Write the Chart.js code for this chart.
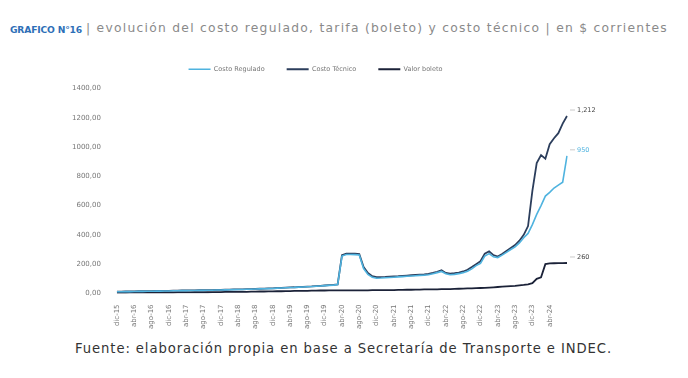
<!DOCTYPE html>
<html><head><meta charset="utf-8">
<script src="https://cdn.jsdelivr.net/npm/chart.js@4.4.1/dist/chart.umd.min.js"></script>
<style>
html,body{margin:0;padding:0;background:#fff;width:688px;height:378px;overflow:hidden;font-family:"DejaVu Sans",sans-serif;}
.t{position:absolute;white-space:nowrap;font-family:"DejaVu Sans",sans-serif;}
#t1{left:10px;top:24px;font-size:9.2px;color:#2E6FB7;font-weight:bold;}
#t2{left:86px;top:21px;font-size:12.3px;color:#8a8a8a;}
#wrap{position:absolute;left:0;top:44px;width:688px;height:290px;}
#foot{position:absolute;left:75px;top:341px;font-size:13.2px;color:#333;white-space:nowrap;font-family:"DejaVu Sans",sans-serif;}
</style></head><body>
<div id="t1" class="t">GRAFICO N°16</div>
<div id="t2" class="t">| evolución del costo regulado, tarifa (boleto) y costo técnico | en $ corrientes</div>
<div id="wrap"><canvas id="c"></canvas></div>
<div id="foot">Fuente: elaboración propia en base a Secretaría de Transporte e INDEC.</div>
<script>
function fitWidth(el, target) {
  const n = el.textContent.length;
  const w = el.getBoundingClientRect().width;
  el.style.letterSpacing = ((target - w) / n) + "px";
}
fitWidth(document.getElementById("t1"), 72);
fitWidth(document.getElementById("t2"), 582);
fitWidth(document.getElementById("foot"), 537);

const monthNames = ["ene","feb","mar","abr","may","jun","jul","ago","sep","oct","nov","dic"];
// categories: monthly from dic-15 to ago-24
const categories = [];
for (let i = 0; i < 105; i++) { const mi = (11 + i) % 12; const yr = 15 + Math.floor((11 + i) / 12); categories.push(monthNames[mi] + "-" + yr); }

const costoTecnico = [
 12,12,13,13,14,15,15,16,16,17,17,18,
 18,19,19,20,20,21,21,22,22,23,23,24,
 24,25,26,27,28,28,29,30,31,32,33,34,
 35,37,38,40,41,42,44,45,47,48,50,52,
 54,56,58,62,
 262,272,272,271,268,
 180,140,118,112,
 112,113,115,117,118,120,122,124,126,128,130,133,
 140,148,158,140,135,138,142,
 150,162,180,200,220,272,288,262,
 252,270,290,310,330,360,400,460,
 700,890,945,920,1020,1060,1095,1160,1212];
const costoRegulado = [
 11,11,12,12,13,14,14,15,15,16,16,17,
 17,18,18,19,19,20,20,21,21,22,22,23,
 23,24,25,26,27,27,28,29,30,31,32,33,
 34,36,37,39,40,41,43,44,46,47,49,51,
 53,55,57,60,
 255,266,266,265,262,
 170,130,110,104,
 105,107,109,111,113,115,117,119,121,123,125,128,
 134,142,150,134,128,130,135,
 142,152,168,190,205,255,272,250,
 245,262,280,300,318,345,380,410,
 470,540,600,665,690,720,740,760,940];
const valorBoleto = [
 4,4,4,5,5,5,5,5,5,6,6,6,
 6,6,7,7,7,7,8,8,8,8,9,9,
 9,10,10,10,11,11,11,12,12,13,13,14,
 14,15,15,16,16,17,17,18,18,19,19,20,
 20,21,21,21,
 21,21,21,21,21,
 21,21,22,22,
 22,22,23,23,24,24,25,25,26,26,27,27,
 28,28,29,30,30,31,32,
 33,34,35,36,37,38,40,42,
 44,46,48,50,52,55,58,62,
 70,100,110,200,205,206,207,207,208];
const seriesNames = ["Costo Regulado","Costo Técnico","Valor boleto"];
const endLabels = ["950","1,212","260"];
const yTicks = [0,200,400,600,800,1000,1200,1400];

const endLabelPlugin = {
  id: "endLabels",
  beforeInit(chart) {
    if (chart.legend) {
      const orig = chart.legend.fit;
      chart.legend.fit = function() { orig.call(this); this.height += 6; };
    }
  },
  afterDatasetsDraw(chart) {
    const ctx = chart.ctx;
    ctx.save();
    ctx.font = "6.5px 'DejaVu Sans'";
    ctx.textBaseline = "middle";
    chart.data.datasets.forEach((ds, i) => {
      const meta = chart.getDatasetMeta(i);
      const pt = meta.data[meta.data.length - 1];
      const x = pt.x, y = pt.y - 6;
      ctx.strokeStyle = "#bbb"; ctx.lineWidth = 0.8;
      ctx.beginPath(); ctx.moveTo(x + 3, y); ctx.lineTo(x + 8, y); ctx.stroke();
      ctx.fillStyle = i === 0 ? "#4FB3DF" : "#444";
      ctx.fillText(endLabels[i], x + 10, y);
    });
    ctx.restore();
  }
};

new Chart(document.getElementById("c"), {
  type: "line",
  data: {
    labels: categories,
    datasets: [
      {label: seriesNames[0], data: costoRegulado, borderColor: "#4FB3DF", backgroundColor: "#4FB3DF", borderWidth: 1.6, pointRadius: 0, tension: 0, order: 1},
      {label: seriesNames[1], data: costoTecnico, borderColor: "#2C3E5C", backgroundColor: "#2C3E5C", borderWidth: 1.8, pointRadius: 0, tension: 0, order: 2},
      {label: seriesNames[2], data: valorBoleto, borderColor: "#1B2238", backgroundColor: "#1B2238", borderWidth: 1.8, pointRadius: 0, tension: 0, order: 3}
    ]
  },
  options: {
    responsive: true, maintainAspectRatio: false, animation: false,
    layout: {padding: {left: 64, right: 121, top: 0, bottom: 2}},
    plugins: {
      legend: {position: "top", labels: {boxWidth: 22, boxHeight: 0, font: {size: 6.5, family: "DejaVu Sans"}, color: "#777", padding: 22}},
      tooltip: {enabled: false}
    },
    scales: {
      x: {grid: {display: false}, border: {display: false},
          ticks: {autoSkip: false, maxRotation: 90, minRotation: 90, font: {size: 7, family: "DejaVu Sans"}, color: "#777", padding: 3,
            callback: function(v, i) { return (i % 4 === 0 && i <= 100) ? categories[i] : ""; }}},
      y: {min: 0, max: 1400, grid: {display: false}, border: {display: false},
          afterBuildTicks: (s) => { s.ticks = yTicks.map(v => ({value: v})); },
          ticks: {font: {size: 7, family: "DejaVu Sans"}, color: "#777", padding: 8,
            callback: (v) => v.toFixed(2).replace(".", ",")}}
    }
  },
  plugins: [endLabelPlugin]
});
</script>
</body></html>
